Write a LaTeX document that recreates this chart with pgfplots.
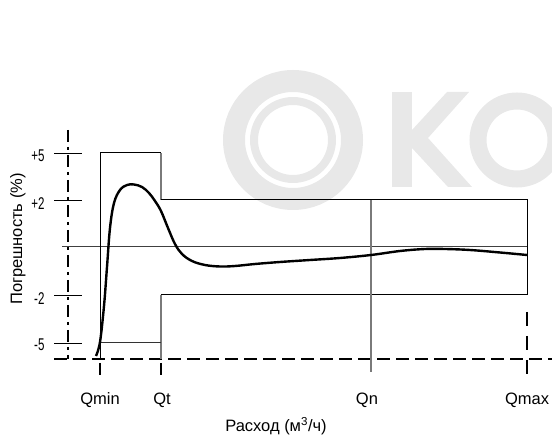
\documentclass[border=0pt]{standalone}
\usepackage{pgfplots}
\pgfplotsset{compat=1.18}
\usepackage{fontspec}
\setmainfont{Liberation Sans}
\newfontfamily\condfont[FakeStretch=0.68]{Liberation Sans}
\definecolor{wm}{HTML}{E8E8E8}
\definecolor{envgray}{HTML}{7A7A7A}
\begin{document}
\begin{tikzpicture}[
  lbl/.style={font=\fontsize{16.5}{19}\selectfont},
  tlbl/.style={font=\condfont\fontsize{17}{19}\selectfont},
]
\begin{axis}[
  scale only axis, width=552pt, height=439pt,
  xmin=0, xmax=552, ymin=0, ymax=439,
  axis lines=none, ticks=none,
]
\path (axis cs:0,0) rectangle (axis cs:552,439);
% watermark
\draw[wm, line width=22pt] (axis cs:293,299) circle[radius=59pt];
\draw[wm, line width=8pt] (axis cs:293,299) circle[radius=39pt];
\fill[wm] (axis cs:392,347) rectangle (axis cs:412,252);
\fill[wm] (axis cs:412,309) -- (axis cs:447,347) -- (axis cs:469,347) -- (axis cs:428,301) -- (axis cs:472,252) -- (axis cs:448,252) -- (axis cs:412,291) -- cycle;
\draw[wm, line width=17pt] (axis cs:517,299) circle[radius=39pt];

% y axis (dash-dot)
\addplot[black, line width=1.5pt, dash pattern=on 12pt off 5pt on 3pt off 5pt] coordinates {(68,309) (68,80)};
% bottom dashed line
\addplot[black, line width=1.5pt, dash pattern=on 13pt off 6pt] coordinates {(54,80) (552,80)};
% y tick marks
\addplot[black, line width=0.9pt] coordinates {(54,286) (82,286)};
\addplot[black, line width=0.9pt] coordinates {(54,239) (82,239)};
\addplot[black, line width=0.9pt] coordinates {(54,144) (82,144)};
\addplot[black, line width=0.9pt] coordinates {(54,96) (82,96)};
% zero line
\addplot[black!75, line width=0.9pt] coordinates {(62,193) (527,193)};
% envelope
\addplot[black, line width=1pt] coordinates {(100,80) (100,286) (161,286)};
\addplot[envgray, line width=1.2pt] coordinates {(161,286) (161,239)};
\addplot[black, line width=1pt] coordinates {(161,239) (527,239) (527,144)};
\addplot[black, line width=1pt] coordinates {(527,144) (161,144)};
\addplot[envgray, line width=1.2pt] coordinates {(161,144) (161,96)};
\addplot[black!80, line width=1pt] coordinates {(161,96) (100,96)};
\addplot[envgray, line width=1.2pt] coordinates {(161,96) (161,80)};
% Qn vertical
\addplot[envgray, line width=1.3pt] coordinates {(371,239) (371,67)};
% Qmax dashed
\addplot[black, line width=1.2pt, dash pattern=on 14pt off 10pt] coordinates {(527,127) (527,64)};
% short tick dashes below axis
\addplot[black, line width=1.2pt] coordinates {(100,76) (100,64)};
\addplot[black, line width=1.2pt] coordinates {(161,76) (161,64)};
% error curve
\addplot[black, line width=2.4pt, smooth, tension=0.6] coordinates {
(96,83) (100,97) (104,133) (107,172) (110,211) (114,236) (120,249) (127,254)
(134,254.5) (142,252) (149,246) (155,238) (161,228) (168,211) (175,195) (182,185)
(192,178) (205,174) (220,172.5) (235,173) (255,175) (280,177) (310,179) (340,181)
(371,184) (400,188) (425,190) (445,190) (470,189) (500,186.5) (527,184)};

% y tick labels
\node[tlbl, anchor=east] at (axis cs:48,283) {+5};
\node[tlbl, anchor=east] at (axis cs:48,235) {+2};
\node[tlbl, anchor=east] at (axis cs:48,140) {-2};
\node[tlbl, anchor=east] at (axis cs:48,94) {-5};
% x tick labels
\node[lbl, anchor=base] at (axis cs:100,34) {Qmin};
\node[lbl, anchor=base] at (axis cs:162,34) {Qt};
\node[lbl, anchor=base] at (axis cs:367,34) {Qn};
\node[lbl, anchor=base] at (axis cs:527,34) {Qmax};
% axis labels
\node[lbl, anchor=base] at (axis cs:276,7) {Расход (м\textsuperscript{3}/ч)};
\node[lbl, anchor=base, rotate=90] at (axis cs:22,200) {Погрешность (\%)};
\end{axis}
\end{tikzpicture}
\end{document}
